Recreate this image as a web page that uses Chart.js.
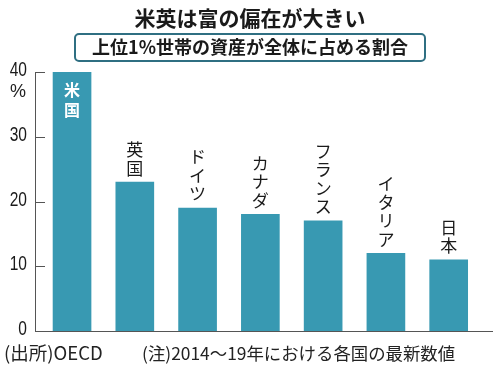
<!DOCTYPE html>
<html><head><meta charset="utf-8">
<script src="https://cdn.jsdelivr.net/npm/chart.js@4/dist/chart.umd.min.js"></script>
<style>
html,body{margin:0;padding:0;background:#fff;}
#wrap{position:relative;width:500px;height:368px;}
canvas{display:block;}
</style></head>
<body><div id="wrap"><canvas id="c" width="500" height="368"></canvas></div>
<script>
const title = '米英は富の偏在が大きい';
const subtitle = '上位1%世帯の資産が全体に占める割合';
const footerSource = '(出所)OECD';
const footerNote = '(注)2014～19年における各国の最新数値';
const categories = ['米国','英国','ドイツ','カナダ','フランス','イタリア','日本'];
const values = [40, 23, 19, 18, 17, 12, 11];
const yTicks = [0, 10, 20, 30, 40];
const unit = '%';

const JP = '"Noto Sans CJK JP", "Noto Sans", sans-serif';
const NUM = '"Liberation Sans", Arial, sans-serif';
const barColor = '#3899b2';

const deco = {
  id: 'deco',
  afterDraw(chart) {
    const ctx = chart.ctx;
    const x = chart.scales.x, y = chart.scales.y;
    const area = chart.chartArea;
    ctx.save();
    // title
    ctx.fillStyle = '#1a1a1a';
    ctx.textAlign = 'center';
    ctx.textBaseline = 'middle';
    ctx.font = 'bold 21px ' + JP;
    ctx.fillText(title, 250, 18);
    // subtitle box
    ctx.strokeStyle = '#2f6f82';
    ctx.lineWidth = 2;
    ctx.beginPath();
    ctx.roundRect(75, 34, 350, 27, 4);
    ctx.stroke();
    ctx.font = 'bold 18px ' + JP;
    ctx.fillText(subtitle, 250, 47.5);
    // footer
    ctx.textAlign = 'left';
    ctx.fillStyle = '#222';
    ctx.font = '18.5px ' + JP;
    ctx.fillText(footerSource, 4, 353);
    ctx.font = '17.4px ' + JP;
    ctx.fillText(footerNote, 142, 353);
    // inward y ticks + condensed tick labels
    ctx.strokeStyle = '#555';
    ctx.lineWidth = 1;
    yTicks.forEach(v => {
      const py = Math.round(y.getPixelForValue(v)) + 0.5;
      ctx.beginPath();
      ctx.moveTo(area.left, py);
      ctx.lineTo(area.left + 10, py);
      ctx.stroke();
      ctx.save();
      ctx.translate(27, py - 2.5);
      ctx.scale(0.74, 1);
      ctx.fillStyle = '#1a1a1a';
      ctx.font = '21px ' + NUM;
      ctx.textAlign = 'right';
      ctx.textBaseline = 'middle';
      ctx.fillText(String(v), 0, 0);
      ctx.restore();
    });
    // unit
    ctx.fillStyle = '#222';
    ctx.textAlign = 'center';
    ctx.textBaseline = 'middle';
    ctx.font = '18px ' + NUM;
    ctx.fillText(unit, 18, 92);
    // bar labels
    const meta = chart.getDatasetMeta(0);
    meta.data.forEach((bar, i) => {
      const chars = Array.from(categories[i]);
      ctx.textAlign = 'center';
      ctx.textBaseline = 'middle';
      if (i === 0) {
        ctx.fillStyle = '#fff';
        ctx.font = 'bold 16px ' + JP;
        chars.forEach((ch, k) => ctx.fillText(ch, bar.x, bar.y + 18 + k * 20));
      } else {
        ctx.fillStyle = '#1a1a1a';
        ctx.font = '17px ' + JP;
        const n = chars.length;
        chars.forEach((ch, k) => ctx.fillText(ch, bar.x, bar.y - 14 - (n - 1 - k) * 18.5));
      }
    });
    ctx.restore();
  }
};

new Chart(document.getElementById('c'), {
  type: 'bar',
  data: {
    datasets: [{
      data: values.map((v, i) => ({x: i, y: v})),
      backgroundColor: barColor,
      borderWidth: 0,
      barThickness: 38
    }]
  },
  options: {
    responsive: false,
    animation: false,
    devicePixelRatio: 1,
    layout: { padding: { left: 0, top: 72, right: 8, bottom: 37 } },
    plugins: { legend: { display: false }, tooltip: { enabled: false } },
    scales: {
      x: {
        type: 'linear',
        offset: false,
        min: -0.59, max: 6.69,
        ticks: { display: false },
        grid: { display: false, drawTicks: false, offset: false },
        border: { display: true, color: '#555', width: 1 },
        afterFit(s) { s.height = 0; }
      },
      y: {
        min: 0, max: 40,
        afterBuildTicks(s) { s.ticks = yTicks.map(v => ({value: v})); },
        ticks: { display: false },
        grid: { display: false, drawTicks: false },
        border: { display: true, color: '#555', width: 1 },
        afterFit(s) { s.width = 35; }
      }
    }
  },
  plugins: [deco]
});
</script></body></html>
